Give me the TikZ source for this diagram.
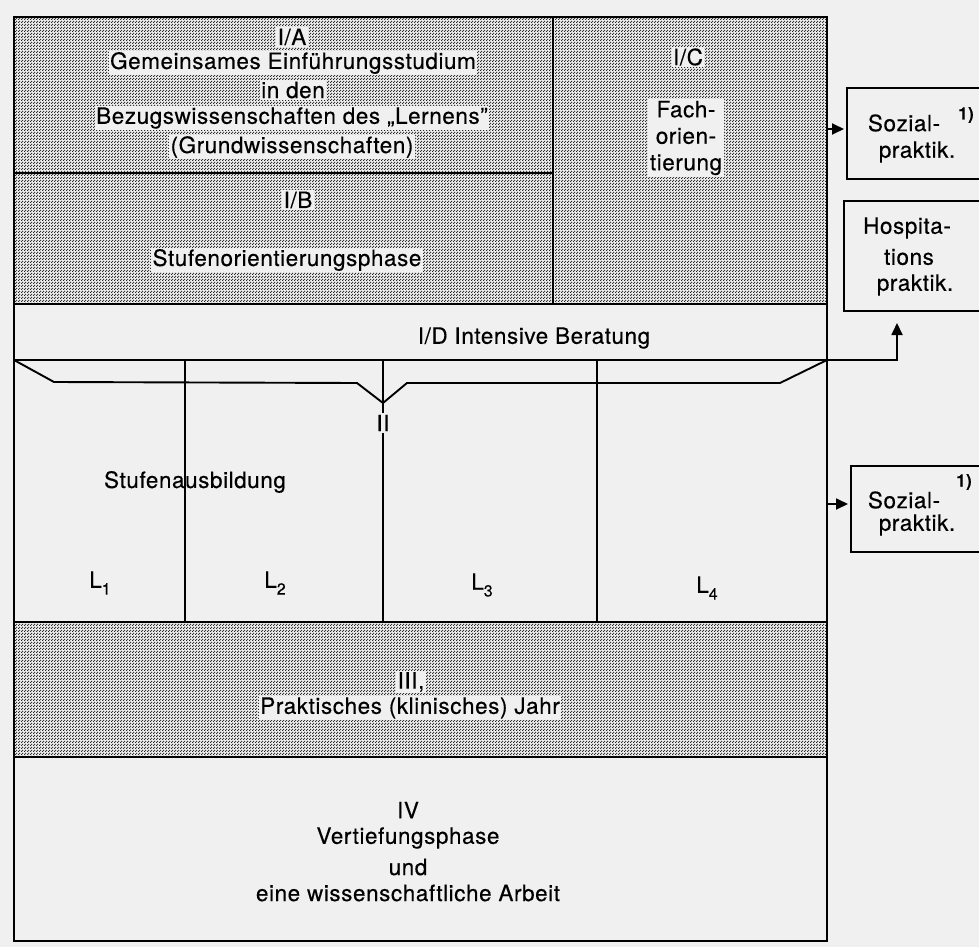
\documentclass[tikz,border=0pt]{standalone}
\usepackage{fontspec}
\setmainfont{TeX Gyre Heros}[LetterSpace=2.5,FakeBold=0.35]
\usetikzlibrary{patterns.meta,arrows.meta}
\definecolor{paper}{gray}{0.94}
\tikzdeclarepattern{
  name=halftone,
  type=uncolored,
  bounding box={(0pt,0pt) and (3pt,3pt)},
  tile size={(3pt,3pt)},
  code={
    \fill (0.75pt,0.75pt) circle (0.95pt);
    \fill (2.25pt,2.25pt) circle (0.95pt);
  }
}
\begin{document}
\begin{tikzpicture}[x=1pt,y=-1pt,
  frameline/.style={line width=2.2pt},
  ln/.style={line width=1.9pt},
  txt/.style={font=\fontsize{22.5}{26}\selectfont, inner sep=1.5pt},
  lbl/.style={txt, fill=paper},
  small/.style={font=\fontsize{17}{19}\selectfont\bfseries, inner sep=1pt},
  shade/.style={pattern=halftone, pattern color=black!85},
  sidebox/.style={draw, line width=1.9pt, fill=paper, minimum width=170pt, anchor=north west},
  arr/.style={line width=1.8pt, -{Triangle[length=12pt,width=11pt]}},
]
\useasboundingbox (0,0) rectangle (979,947);
\fill[paper] (0,0) rectangle (979,947);

% shaded areas
\fill[shade] (14,17) rectangle (827,304);
\fill[shade] (14,622) rectangle (827,757);

% frame and dividers
\draw[frameline] (14,17) rectangle (827,941);
\draw[ln] (14,173) -- (553,173);
\draw[ln] (553,17) -- (553,304);
\draw[ln] (14,304) -- (827,304);
\draw[ln] (14,360) -- (827,360);
\draw[ln] (14,360) -- (54,382) -- (357,383) -- (383,403) -- (407,383) -- (780,383) -- (827,360);
\draw[ln] (185,360) -- (185,622);
\draw[ln] (383,360) -- (383,622);
\draw[ln] (597,360) -- (597,622);
\draw[ln] (14,622) -- (827,622);
\draw[ln] (14,757) -- (827,757);

% side boxes
\node[sidebox, minimum height=91pt] (soz1) at (846,87) {};
\node[sidebox, minimum height=110pt] (hosp) at (843,200) {};
\node[sidebox, minimum height=86pt] (soz2) at (850,465) {};

% connectors
\coordinate (icR) at (827,129);
\coordinate (idR) at (827,360);
\coordinate (hostip) at (897,323);
\coordinate (iiR) at (827,504);
\draw[arr, shorten >=2pt] (icR) -- (soz1.west |- icR);
\draw[arr] (idR) -| (hostip);
\draw[arr, shorten >=2pt] (iiR) -- (soz2.west |- iiR);

% texts I/A, I/B
\node[lbl] (ia)  at (292,37)  {I/A};
\node[lbl] (ia1) at (293,63)  {Gemeinsames Einführungsstudium};
\node[lbl] (ia2) at (293,90)  {in den};
\node[lbl] (ia3) at (292,118) {Bezugswissenschaften des „Lernens”};
\node[lbl] (ia4) at (292,147) {(Grundwissenschaften)};
\node[lbl] (ib)  at (298,200) {I/B};
\node[lbl] (ib1) at (287,260) {Stufenorientierungsphase};
% I/C
\node[lbl] (ic)  at (688,57)  {I/C};
\node[lbl, align=center, font=\fontsize{22.5}{26.5}\selectfont] (ic1) at (686,138) {Fach-\\orien-\\tierung};
% I/D and II
\node[txt] (id) at (534,338) {I/D Intensive Beratung};
\node[txt] (stufe) at (195,482) {Stufenausbildung};
\node[txt, fill=paper, inner sep=2pt] (ii) at (383,423) {II};
\node[txt] (l1) at (100,583) {L\raisebox{-0.3em}{\fontsize{16}{18}\selectfont 1}};
\node[txt] (l2) at (275,583) {L\raisebox{-0.3em}{\fontsize{16}{18}\selectfont 2}};
\node[txt] (l3) at (482,585) {L\raisebox{-0.3em}{\fontsize{16}{18}\selectfont 3}};
\node[txt] (l4) at (707,588) {L\raisebox{-0.3em}{\fontsize{16}{18}\selectfont 4}};
% III
\node[lbl] (iii)  at (411,682) {III,};
\node[lbl] (iii1) at (410,708) {Praktisches (klinisches) Jahr};
% IV
\node[txt] (iv)  at (408,810) {IV};
\node[txt] (iv1) at (408,838) {Vertiefungsphase};
\node[txt] (iv2) at (408,867) {und};
\node[txt] (iv3) at (408,893) {eine wissenschaftliche Arbeit};

% side box texts
\node[txt] (soz1a) at (904,123) {Sozial-};
\node[txt] (soz1b) at (917,152) {praktik.};
\node[small] (fn1) at (966,115) {1)};
\node[txt] (hospa) at (907,228) {Hospita-};
\node[txt] (hospb) at (909,257) {tions};
\node[txt] (hospc) at (915,285) {praktik.};
\node[txt] (soz2a) at (904,500) {Sozial-};
\node[txt] (soz2b) at (917,525) {praktik.};
\node[small] (fn2) at (964,482) {1)};
\end{tikzpicture}
\end{document}
